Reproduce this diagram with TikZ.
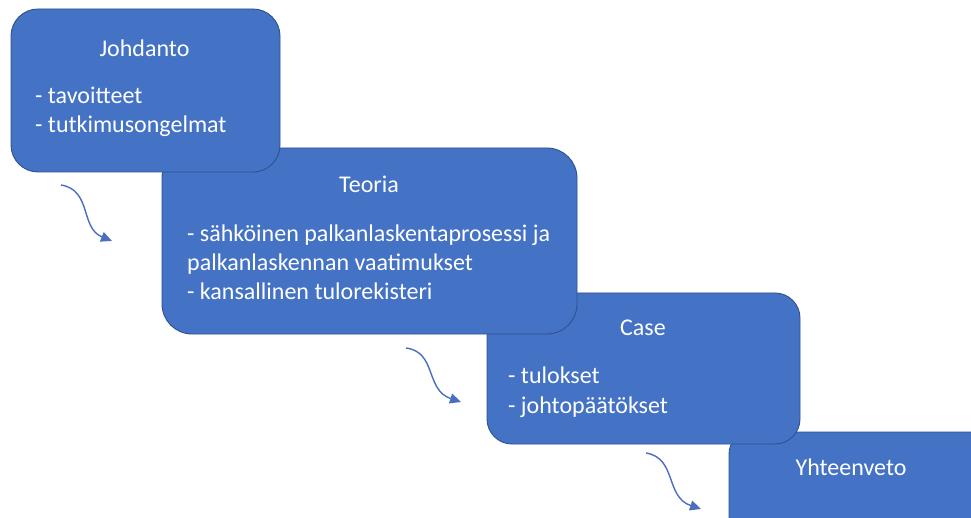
\documentclass[tikz,border=0pt]{standalone}
\usepackage{fontspec}
\setmainfont{Carlito}
\usetikzlibrary{arrows.meta}
\definecolor{boxblue}{HTML}{4472C4}
\definecolor{boxedge}{HTML}{2F528F}
\definecolor{arrblue}{HTML}{4A6FC0}
\tikzset{
  stage/.style={fill=boxblue, draw=boxedge, line width=0.9pt},
  txt/.style={text=white, inner sep=0pt, font=\fontsize{24}{29}\selectfont},
  title/.style={txt, anchor=base},
  item/.style={txt, anchor=base west},
  flow/.style={draw=arrblue, line width=1.4pt, -{Triangle[length=11pt,width=10pt]}}
}
\begin{document}
\begin{tikzpicture}[x=1pt,y=-1pt]
\useasboundingbox (0,0) rectangle (971,518);
\clip (0,0) rectangle (971,518);
\fill[white] (0,0) rectangle (971,518);
% boxes (later ones underneath)
\draw[stage, rounded corners=22pt] (729,432) rectangle (1000,560);
\draw[stage, rounded corners=25pt] (487,293) rectangle (800,444);
\draw[stage, rounded corners=30pt] (162,148) rectangle (577,334);
\draw[stage, rounded corners=27pt] (11,9) rectangle (280,172);
% Johdanto
\node[title] (t1) at (144.5,57) {Johdanto};
\node[item] (j1) at (35,104) {- tavoitteet};
\node[item] (j2) at (35,133) {- tutkimusongelmat};
% Teoria
\node[title] (t2) at (369,193) {Teoria};
\node[item] (e1) at (187,242) {- sähköinen palkanlaskentaprosessi ja};
\node[item] (e2) at (187,271) {palkanlaskennan vaatimukset};
\node[item] (e3) at (187,300) {- kansallinen tulorekisteri};
% Case
\node[title] (t3) at (643,335) {Case};
\node[item] (c1) at (508,383) {- tulokset};
\node[item] (c2) at (508,413) {- johtopäätökset};
% Yhteenveto
\node[title] (t4) at (851,475) {Yhteenveto};
% arrows
\coordinate (a1s) at (61,185);
\coordinate (a1e) at (112,241);
\coordinate (a2s) at (406,348);
\coordinate (a2e) at (461,402);
\coordinate (a3s) at (646,453);
\coordinate (a3e) at (701,509);
\draw[flow] (a1s) .. controls (92,190) and (80,228) .. (a1e);
\draw[flow] (a2s) .. controls (437,352) and (425,390) .. (a2e);
\draw[flow] (a3s) .. controls (677,458) and (665,497) .. (a3e);
\end{tikzpicture}
\end{document}
